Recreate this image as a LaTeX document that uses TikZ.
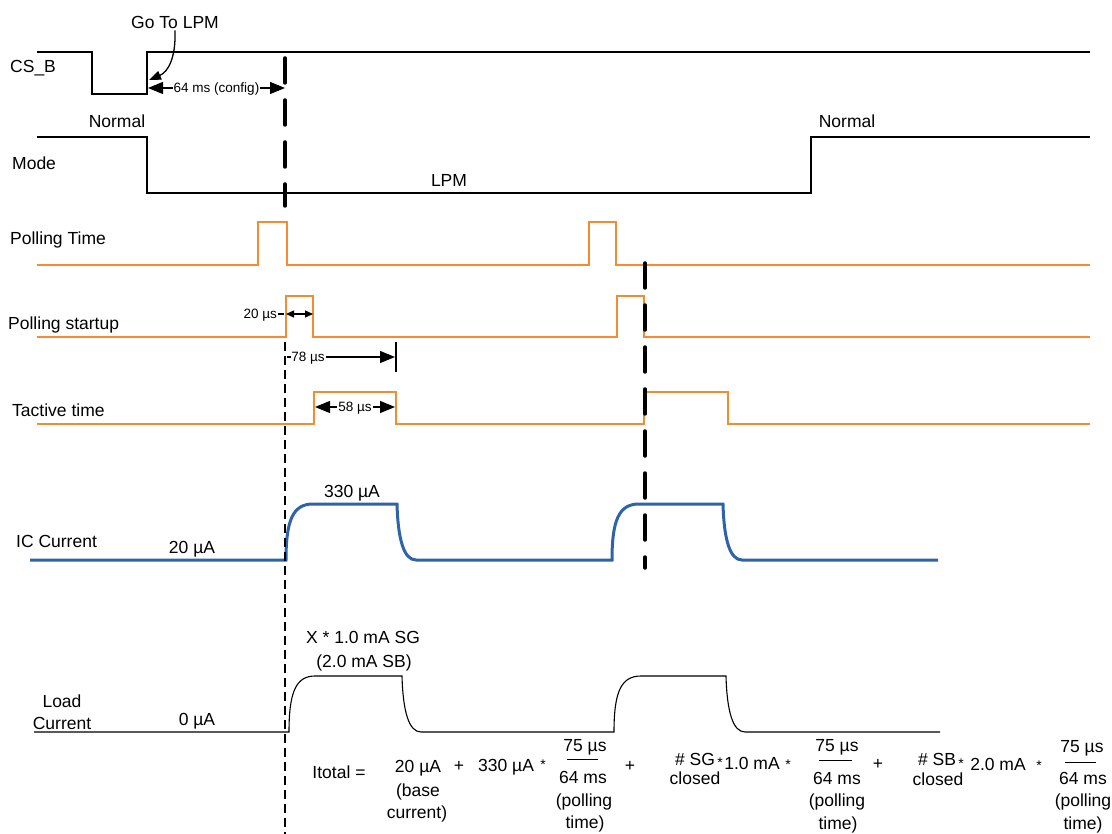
\documentclass[tikz,border=0pt]{standalone}
\usepackage{fontspec}
\setmainfont{Liberation Sans}
\usetikzlibrary{arrows.meta}
\definecolor{sigorange}{RGB}{246,138,46}
\definecolor{sigblue}{RGB}{46,99,168}
\begin{document}
\begin{tikzpicture}[x=1pt,y=-1pt,
  lbl/.style={font=\fontsize{17.5}{20}\selectfont, inner sep=0pt, text height=12.5pt, text depth=0pt},
  star/.style={font=\fontsize{14}{16}\selectfont, inner sep=0pt},
  small/.style={font=\fontsize{13.5}{15}\selectfont, inner sep=0pt, text height=9.7pt, text depth=0pt},
  digital/.style={line width=2.6pt, line join=miter},
  orangesig/.style={line width=2.8pt, draw=sigorange},
  bluesig/.style={line width=3pt, draw=sigblue},
  loadsig/.style={line width=1.1pt},
  bigdash/.style={line width=3.5pt, line cap=round, dash pattern=on 25pt off 17pt},
  thindash/.style={line width=1.5pt, dash pattern=on 9pt off 5pt},
  dimarrow/.style={line width=1.2pt, {Triangle[length=15pt,width=12pt]}-{Triangle[length=15pt,width=12pt]}},
  onearrow/.style={line width=1.2pt, -{Triangle[length=15pt,width=12pt]}},
  tinyarrow/.style={line width=1.2pt, {Triangle[length=8pt,width=7pt]}-{Triangle[length=8pt,width=7pt]}},
  fracline/.style={line width=1pt}
]
\useasboundingbox (0,0) rectangle (1112,834);

% ---------- CS_B ----------
\draw[digital] (37,52) -- (92,52) -- (92,94) -- (147,94) -- (147,52) -- (1090,52);
\node[lbl, anchor=west] (csb) at (10,66) {CS\_B};
\node[lbl] (gotolpm) at (175,22) {Go To LPM};
\coordinate (gotip) at (149,80);
\draw[line width=1.3pt, -{Triangle[length=12pt,width=9pt]}] (gotolpm.south) ++(0,2) .. controls (176,58) and (168,72) .. (gotip);
\coordinate (cfgL) at (148,88);
\coordinate (cfgR) at (285,88);
\draw[dimarrow] (cfgL) -- node[small, fill=white, inner xsep=1pt] (cfg) {64 ms (config)} (cfgR);

% ---------- Mode ----------
\draw[digital] (37,137) -- (147,137) -- (147,193) -- (811,193) -- (811,137) -- (1090,137);
\node[lbl, anchor=west] (mode) at (12,163) {Mode};
\node[lbl] (normal1) at (117,121) {Normal};
\node[lbl] (normal2) at (847,121) {Normal};
\node[lbl] (lpm) at (449,180) {LPM};

% ---------- Polling Time ----------
\draw[orangesig] (37,265) -- (258,265) -- (258,222) -- (287,222) -- (287,265) -- (589,265) -- (589,222) -- (616,222) -- (616,265) -- (1090,265);
\node[lbl, anchor=west] (ptime) at (10,238) {Polling Time};

% ---------- Polling startup ----------
\draw[orangesig] (37,337) -- (286,337) -- (286,296) -- (313,296) -- (313,337) -- (617,337) -- (617,296) -- (644,296) -- (644,337) -- (1090,337);
\node[lbl, anchor=west] (pstart) at (8,323) {Polling startup};
\node[small, anchor=east] (l20) at (277,314) {20 µs};
\coordinate (s20a) at (286,314);
\coordinate (s20b) at (313,314);
\draw[line width=2pt] (l20.east) ++(1,0) -- (284,314);
\draw[tinyarrow] (s20a) -- (s20b);

% 78 us
\node[small] (l78) at (308,357) {78 µs};
\coordinate (t78) at (395,357);
\draw[line width=1.2pt] (287,357) -- (l78.west);
\draw[onearrow] (l78.east) ++(1,0) -- (t78);
\draw[line width=2.6pt] (396,342) -- (396,372);

% ---------- Tactive time ----------
\draw[orangesig] (37,424) -- (314,424) -- (314,392) -- (396,392) -- (396,424) -- (644,424) -- (644,392) -- (728,392) -- (728,424) -- (1090,424);
\node[lbl, anchor=west] (tact) at (12,410) {Tactive time};
\coordinate (t58a) at (315,407);
\coordinate (t58b) at (395,407);
\draw[dimarrow] (t58a) -- node[small, fill=white, inner xsep=1pt] (l58) {58 µs} (t58b);

% ---------- IC Current ----------
\draw[bluesig] (30,560) -- (286,560) .. controls (286,520) and (293,504) .. (313,504) -- (397,504)
  .. controls (398,540) and (404,560) .. (416,560) -- (612,560) .. controls (612,520) and (619,504) .. (639,504)
  -- (723,504) .. controls (724,540) and (730,560) .. (742,560) -- (938,560);
\node[lbl, anchor=west] (iccur) at (16,541) {IC Current};
\node[lbl] (ic20) at (192,547) {20 µA};
\node[lbl] (ic330) at (352,491) {330 µA};

% ---------- Load Current ----------
\draw[loadsig] (34,732) -- (289,732) .. controls (289,692) and (296,676) .. (315,676) -- (402,676)
  .. controls (403,712) and (409,732) .. (421,732) -- (614,732) .. controls (614,692) and (621,676) .. (641,676)
  -- (726,676) .. controls (727,712) and (733,732) .. (745,732) -- (940,732);
\node[lbl] (load1) at (62,701) {Load};
\node[lbl] (load2) at (62,723) {Current};
\node[lbl] (load0) at (197,719) {0 µA};
\node[lbl] (lx1) at (363,637) {X * 1.0 mA SG};
\node[lbl] (lx2) at (364,661) {(2.0 mA SB)};

% ---------- dashed markers ----------
\draw[bigdash] (285,58) -- (285,206);
\draw[bigdash] (645,263) -- (645,568);
\draw[thindash] (285,342) -- (285,834);

% ---------- Formula ----------
\node[lbl] (itot) at (339,772) {Itotal =};
\node[lbl] (f20) at (418,766) {20 µA};
\node[lbl] (f20b) at (418,790) {(base};
\node[lbl] (f20c) at (417,812) {current)};
\node[lbl] (plus1) at (459,765) {+};
\node[lbl, anchor=west] (f330) at (478,765) {330 µA};
\node[star] (st1) at (543,765) {*};
\node[lbl] (n1) at (585,745) {75 µs};
\draw[fracline] (567,759) -- (598,759);
\node[lbl] (d1a) at (583,777) {64 ms};
\node[lbl] (d1b) at (584,800) {(polling};
\node[lbl] (d1c) at (585,822) {time)};
\node[lbl] (plus2) at (630,765) {+};
\node[lbl] (sg1) at (695,759) {\# SG};
\node[star] (st2) at (720,763) {*};
\node[lbl] (sg2) at (695,778) {closed};
\node[lbl] (ma1) at (752,763) {1.0 mA};
\node[star] (st3) at (788,765) {*};
\node[lbl] (n2) at (837,745) {75 µs};
\draw[fracline] (819,760) -- (852,760);
\node[lbl] (d2a) at (837,778) {64 ms};
\node[lbl] (d2b) at (837,800) {(polling};
\node[lbl] (d2c) at (838,823) {time)};
\node[lbl] (plus3) at (878,763) {+};
\node[lbl] (sb1) at (937,759) {\# SB};
\node[star] (st4) at (961,764) {*};
\node[lbl] (sb2) at (938,779) {closed};
\node[lbl] (ma2) at (998,764) {2.0 mA};
\node[star] (st5) at (1039,766) {*};
\node[lbl] (n3) at (1082,746) {75 µs};
\draw[fracline] (1065,762) -- (1096,762);
\node[lbl] (d3a) at (1083,778) {64 ms};
\node[lbl] (d3b) at (1083,800) {(polling};
\node[lbl] (d3c) at (1083,823) {time)};
\end{tikzpicture}
\end{document}
